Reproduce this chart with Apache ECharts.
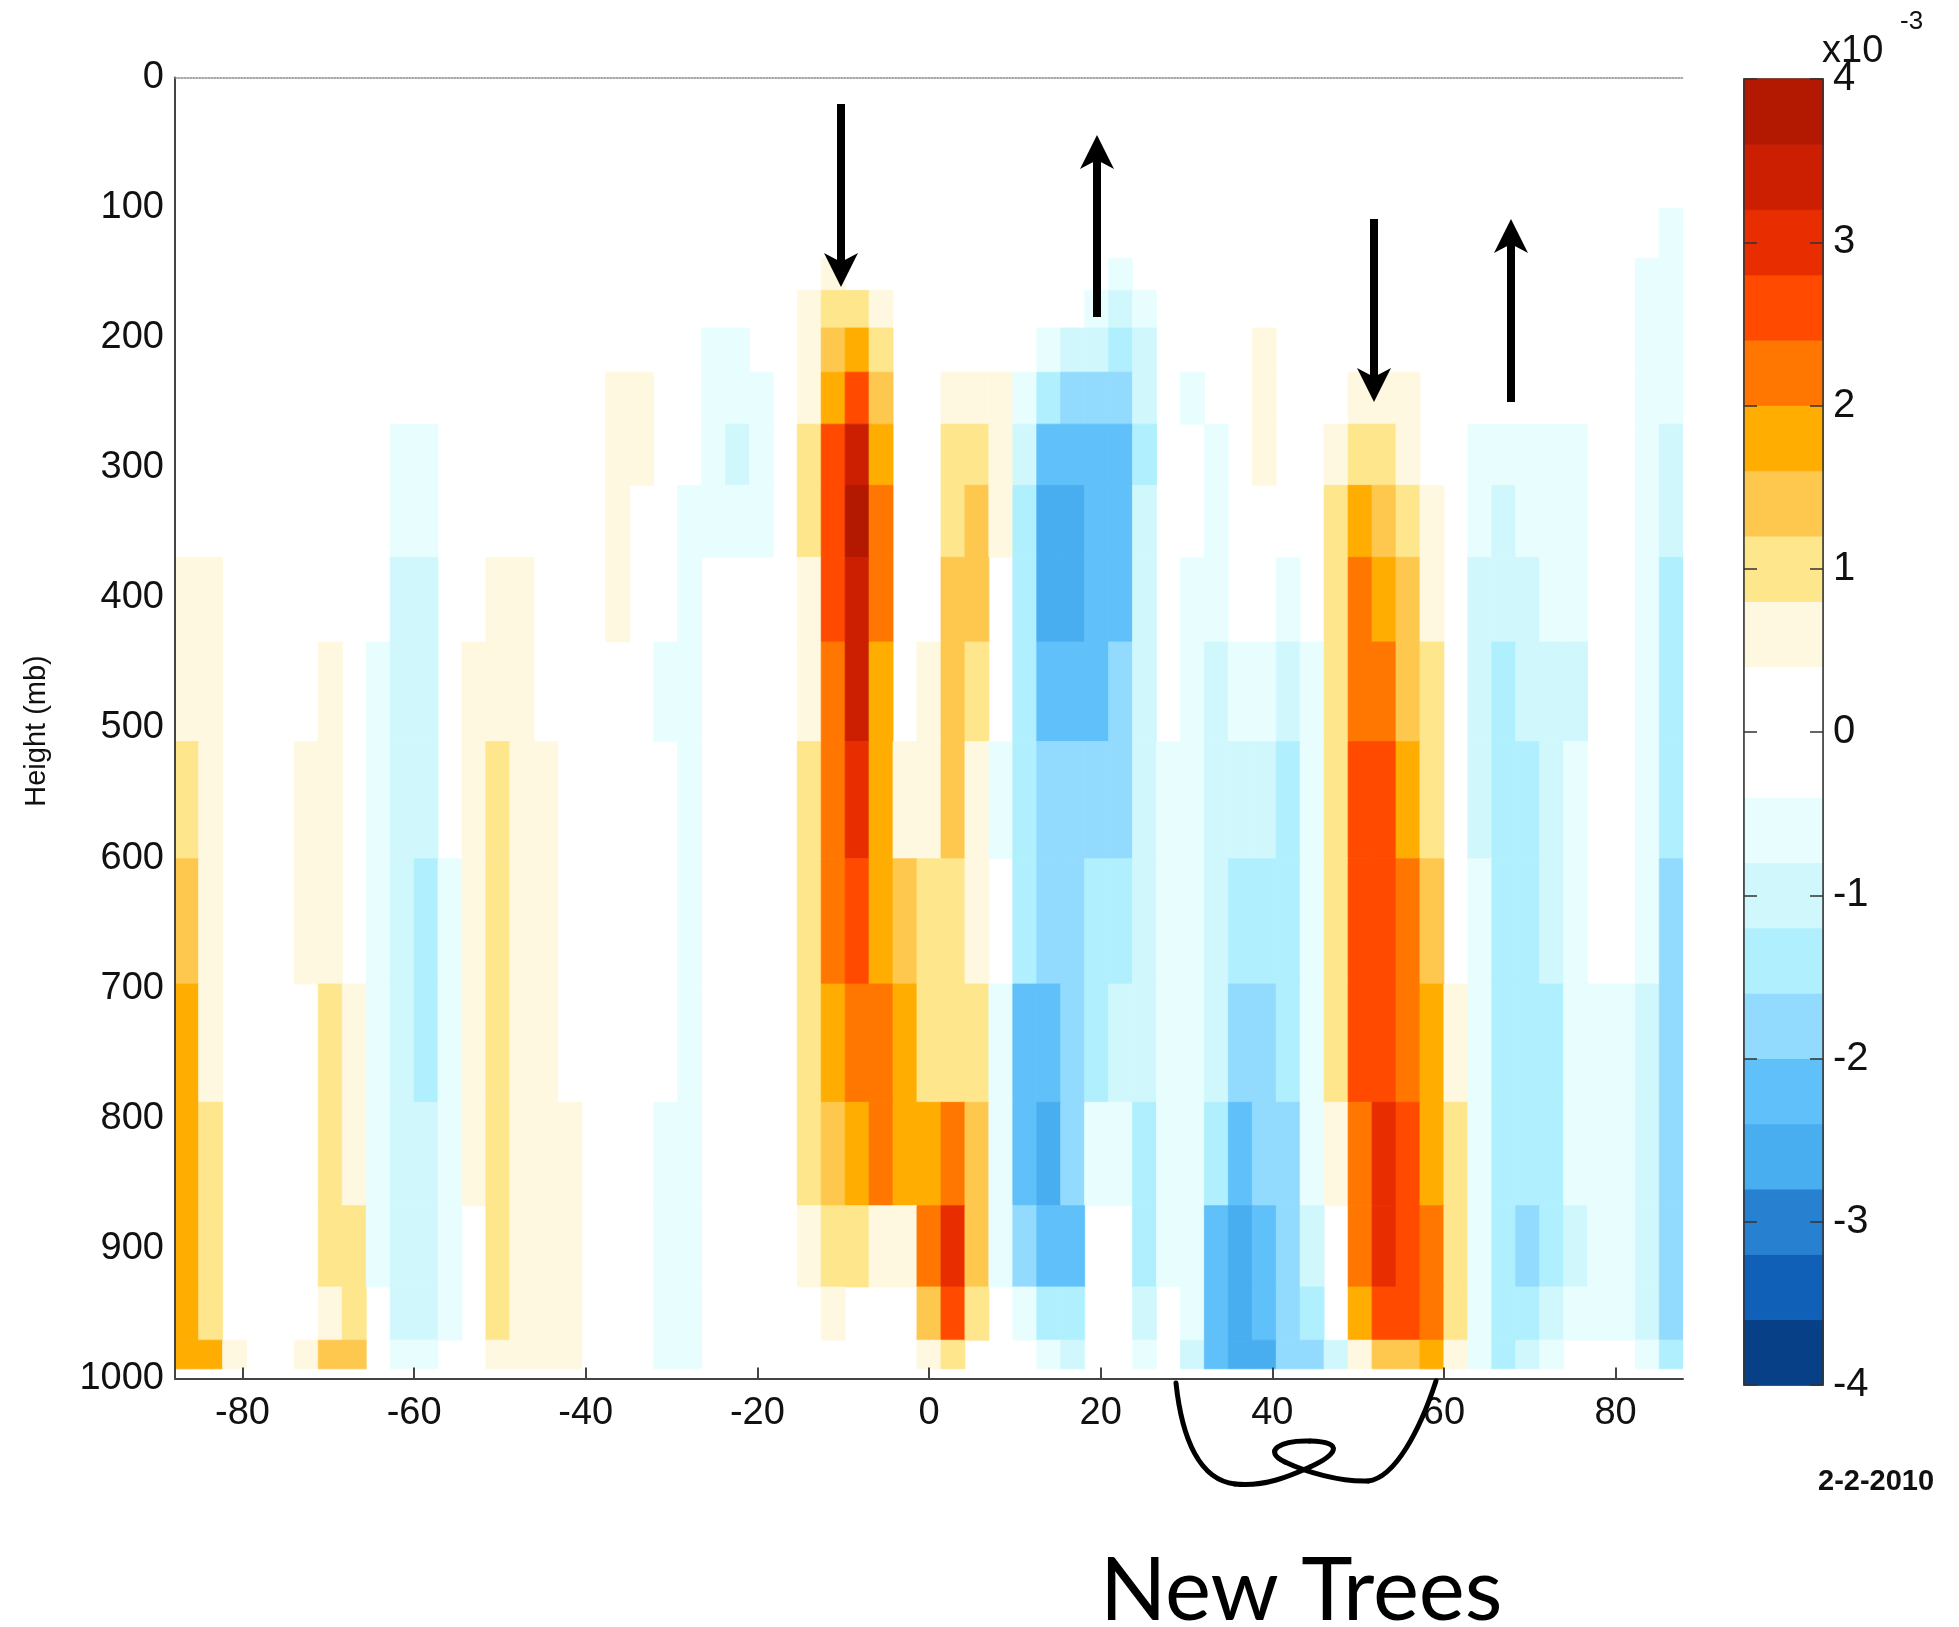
<!DOCTYPE html>
<html>
<head>
<meta charset="utf-8">
<title>Height (mb) by latitude, 2-2-2010</title>
<script src="https://cdn.jsdelivr.net/npm/echarts@6.0.0/dist/echarts.min.js"></script>
<style>
  html, body { margin: 0; padding: 0; background: #fff; }
  #chart { width: 1959px; height: 1627px; }
</style>
</head>
<body>
<div id="chart"></div>
<script>
const fontSans = "'Liberation Sans', Arial, sans-serif"

// latitude cell edges (gaussian grid), south to north
const latEdges = [
  -87.86, -85.10, -82.31, -79.53, -76.74, -73.95, -71.16, -68.37, -65.58, -62.79,
  -60.00, -57.21, -54.42, -51.63, -48.84, -46.04, -43.25, -40.46, -37.67, -34.88,
  -32.09, -29.30, -26.51, -23.72, -20.93, -18.14, -15.35, -12.56, -9.77, -6.98,
  -4.19, -1.40, 1.40, 4.19, 6.98, 9.77, 12.56, 15.35, 18.14, 20.93,
  23.72, 26.51, 29.30, 32.09, 34.88, 37.67, 40.46, 43.25, 46.04, 48.84,
  51.63, 54.42, 57.21, 60.00, 62.79, 65.58, 68.37, 71.16, 73.95, 76.74,
  79.53, 82.31, 85.10, 87.86,
]

// pressure cell edges (mb), top to bottom
const levelEdges = [100.51, 118.25, 139.12, 163.66, 192.54, 226.51, 266.48, 313.50, 368.82,
  433.90, 510.46, 600.52, 696.80, 787.70, 867.16, 929.65, 970.55, 992.56]

// values (x 1e-3), one row per pressure band, one value per latitude band
const anomaly = [
  [0,0,0,0,0,0,0,0,0,0, 0,0,0,0,0,0,0,0,0,0, 0,0,0,0,0,0,0,0,0,0, 0,0,0,0,0,0,0,0,0,0, 0,0,0,0,0,0,0,0,0,0, 0,0,0,0,0,0,0,0,0,0, 0,0,-0.6],
  [0,0,0,0,0,0,0,0,0,0, 0,0,0,0,0,0,0,0,0,0, 0,0,0,0,0,0,0,0,0,0, 0,0,0,0,0,0,0,0,0,0, 0,0,0,0,0,0,0,0,0,0, 0,0,0,0,0,0,0,0,0,0, 0,0,-0.6],
  [0,0,0,0,0,0,0,0,0,0, 0,0,0,0,0,0,0,0,0,0, 0,0,0,0,0,0,0,0.6,0,0, 0,0,0,0,0,0,0,0,0,-0.6, 0,0,0,0,0,0,0,0,0,0, 0,0,0,0,0,0,0,0,0,0, 0,-0.6,-0.6],
  [0,0,0,0,0,0,0,0,0,0, 0,0,0,0,0,0,0,0,0,0, 0,0,0,0,0,0,0.6,1,1,0.6, 0,0,0,0,0,0,0,0,-0.6,-1, -0.6,0,0,0,0,0,0,0,0,0, 0,0,0,0,0,0,0,0,0,0, 0,-0.6,-0.6],
  [0,0,0,0,0,0,0,0,0,0, 0,0,0,0,0,0,0,0,0,0, 0,0,-0.6,-0.6,0,0,0.6,1.4,1.8,1, 0,0,0,0,0,0,-0.6,-1,-1,-1.4, -1,0,0,0,0,0.6,0,0,0,0, 0,0,0,0,0,0,0,0,0,0, 0,-0.6,-0.6],
  [0,0,0,0,0,0,0,0,0,0, 0,0,0,0,0,0,0,0,0.6,0.6, 0,0,-0.6,-0.6,-0.6,0,0.6,1.8,2.6,1.4, 0,0,0.6,0.6,0.6,-0.6,-1.4,-1.8,-1.8,-1.8, -1,0,-0.6,0,0,0.6,0,0,0,0.6, 0.6,0.6,0,0,0,0,0,0,0,0, 0,-0.6,-0.6],
  [0,0,0,0,0,0,0,0,0,-0.6, -0.6,0,0,0,0,0,0,0,0.6,0.6, 0,0,-0.6,-1,-0.6,0,1,2.6,3.4,1.8, 0,0,1,1,0.6,-1,-2.2,-2.2,-2.2,-2.2, -1.4,0,0,-0.6,0,0.6,0,0,0.6,1, 1,0.6,0,0,-0.6,-0.6,-0.6,-0.6,-0.6,0, 0,-0.6,-1],
  [0,0,0,0,0,0,0,0,0,-0.6, -0.6,0,0,0,0,0,0,0,0.6,0, 0,-0.6,-0.6,-0.6,-0.6,0,1,2.6,3.8,2.2, 0,0,1,1.4,0.6,-1.4,-2.6,-2.6,-2.2,-2.2, -1,0,0,-0.6,0,0,0,0,1,1.8, 1.4,1,0.6,0,-0.6,-1,-0.6,-0.6,-0.6,0, 0,-0.6,-1],
  [0.6,0.6,0,0,0,0,0,0,0,-1, -1,0,0,0.6,0.6,0,0,0,0.6,0, 0,-0.6,0,0,0,0,0.6,2.6,3.4,2.2, 0,0,1.4,1.4,0,-1.4,-2.6,-2.6,-2.2,-2.2, -1,0,-0.6,-0.6,0,0,-0.6,0,1,2.2, 1.8,1.4,0.6,0,-1,-1,-1,-0.6,-0.6,0, 0,-0.6,-1.4],
  [0.6,0.6,0,0,0,0,0.6,0,-0.6,-1, -1,0,0.6,0.6,0.6,0,0,0,0,0, -0.6,-0.6,0,0,0,0,0.6,2.2,3.4,1.8, 0,0.6,1.4,1,0,-1.4,-2.2,-2.2,-2.2,-1.8, -1,0,-0.6,-1,-0.6,-0.6,-1,-0.6,1,2.2, 2.2,1.4,1,0,-1,-1.4,-1,-1,-1,0, 0,-0.6,-1.4],
  [1,0.6,0,0,0,0.6,0.6,0,-0.6,-1, -1,0,0.6,1,0.6,0.6,0,0,0,0, 0,-0.6,0,0,0,0,1,2.2,3,1.8, 0.6,0.6,1.4,0.6,-0.6,-1.4,-1.8,-1.8,-1.8,-1.8, -1,-0.6,-0.6,-1,-1,-1,-1.4,-0.6,1,2.6, 2.6,1.8,1,0,-1,-1.4,-1.4,-1,-0.6,0, 0,-0.6,-1.4],
  [1.4,0.6,0,0,0,0.6,0.6,0,-0.6,-1, -1.4,-0.6,0.6,1,0.6,0.6,0,0,0,0, 0,-0.6,0,0,0,0,1,2.2,2.6,1.8, 1.4,1,1,0.6,0,-1.4,-1.8,-1.8,-1.4,-1.4, -1,-0.6,-0.6,-1,-1.4,-1.4,-1.4,-0.6,1,2.6, 2.6,2.2,1.4,0,-0.6,-1.4,-1.4,-1,-0.6,0, 0,-0.6,-1.8],
  [1.8,0.6,0,0,0,0,1,0.6,-0.6,-1, -1.4,-0.6,0.6,1,0.6,0.6,0,0,0,0, 0,-0.6,0,0,0,0,1,1.8,2.2,2.2, 1.8,1,1,1,-0.6,-2.2,-2.2,-1.8,-1.4,-1, -1,-0.6,-0.6,-1,-1.8,-1.8,-1.4,-0.6,1,2.6, 2.6,2.2,1.8,0.6,-0.6,-1.4,-1.4,-1.4,-0.6,-0.6, -0.6,-1,-1.8],
  [1.8,1,0,0,0,0,1,0.6,-0.6,-1, -1,-0.6,0.6,1,0.6,0.6,0.6,0,0,0, -0.6,-0.6,0,0,0,0,1,1.4,1.8,2.2, 1.8,1.8,2.2,1.4,-0.6,-2.2,-2.6,-1.8,-0.6,-0.6, -1.4,-0.6,-0.6,-1.4,-2.2,-1.8,-1.8,-0.6,0.6,2.2, 3,2.6,1.8,1,-0.6,-1.4,-1.4,-1.4,-0.6,-0.6, -0.6,-1,-1.8],
  [1.8,1,0,0,0,0,1,1,-0.6,-1, -1,-0.6,0,1,0.6,0.6,0.6,0,0,0, -0.6,-0.6,0,0,0,0,0.6,1,1,0.6, 0.6,2.2,3,1.4,-0.6,-1.8,-2.2,-2.2,0,0, -1.4,-0.6,-0.6,-2.2,-2.6,-2.2,-1.8,-1,0,2.2, 3,2.6,2.2,1,-0.6,-1.4,-1.8,-1.4,-1,-0.6, -0.6,-1,-1.8],
  [1.8,1,0,0,0,0,0.6,1,0,-1, -1,-0.6,0,1,0.6,0.6,0.6,0,0,0, -0.6,-0.6,0,0,0,0,0,0.6,0,0, 0,1.4,2.6,1,0,-0.6,-1.4,-1.4,0,0, -1,0,-0.6,-2.2,-2.6,-2.2,-1.8,-1.4,0,1.8, 2.6,2.6,2.2,1,-0.6,-1.4,-1.4,-1,-0.6,-0.6, -0.6,-1,-1.8],
  [1.8,1.8,0.6,0,0,0.6,1.4,1.4,0,-0.6, -0.6,0,0,0.6,0.6,0.6,0.6,0,0,0, -0.6,-0.6,0,0,0,0,0,0,0,0, 0,0.6,1,0,0,0,-0.6,-1,0,0, -0.6,0,-1,-2.2,-2.6,-2.6,-1.8,-1.8,-1,0.6, 1.4,1.4,1.8,0.6,-0.6,-1.4,-1,-0.6,0,0, 0,-0.6,-1.4],
]

// colour scale (x 1e-3)
const binEdges = [-4, -3.6, -3.2, -2.8, -2.4, -2, -1.6, -1.2, -0.8, -0.4, 0, 0.4, 0.8, 1.2, 1.6, 2, 2.4, 2.8, 3.2, 3.6, 4]
const binColors = ['#084088', '#1060b8', '#2880d0', '#48aef0', '#60c0fa', '#92dafe', '#b0f0fe', '#d0f8fc', '#e8fefe', '#ffffff',
  '#ffffff', '#fff8e0', '#fee68c', '#fec84f', '#ffad00', '#ff7700', '#ff4a00', '#e82e00', '#cc1e00', '#b31800']

// cells: [lat0, lat1, p0, p1, value]
const cells = []
anomaly.forEach((row, r) => {
  row.forEach((v, c) => {
    if (v !== 0) cells.push([latEdges[c], latEdges[c + 1], levelEdges[r], levelEdges[r + 1], v])
  })
})
const barCells = binColors.map((col, i) => [0, 1, binEdges[i], binEdges[i + 1], i])

const rect = (api, fill) => {
  const a = api.coord([api.value(0), api.value(2)])
  const b = api.coord([api.value(1), api.value(3)])
  return {
    type: 'rect',
    shape: { x: Math.min(a[0], b[0]), y: Math.min(a[1], b[1]), width: Math.abs(b[0] - a[0]), height: Math.abs(b[1] - a[1]) },
    style: { fill, stroke: fill, lineWidth: 0.8 },
  }
}

// black arrows drawn over the plot
const arrow = (x, tail, tip) => {
  const dir = tip > tail ? 1 : -1
  return [
    { type: 'line', z: 100, shape: { x1: x, y1: tail, x2: x, y2: tip - dir * 24 }, style: { stroke: '#000', lineWidth: 8 } },
    { type: 'polygon', z: 100, shape: { points: [[x, tip], [x - 17, tip - dir * 34], [x, tip - dir * 25], [x + 17, tip - dir * 34]] }, style: { fill: '#000' } },
  ]
}

// hand drawn loop under the axis
const loopCurve = [
  [1176, 1383, 1182, 1440, 1200, 1480, 1235, 1484],
  [1235, 1484, 1265, 1487, 1290, 1476, 1310, 1467],
  [1310, 1467, 1336, 1455, 1346, 1442, 1310, 1441],
  [1310, 1441, 1280, 1440, 1262, 1451, 1285, 1462],
  [1285, 1462, 1306, 1472, 1340, 1482, 1368, 1481],
  [1368, 1481, 1395, 1478, 1420, 1430, 1436, 1381],
].map(s => ({
  type: 'bezierCurve', z: 100,
  shape: { x1: s[0], y1: s[1], cpx1: s[2], cpy1: s[3], cpx2: s[4], cpy2: s[5], x2: s[6], y2: s[7] },
  style: { stroke: '#000', lineWidth: 5, fill: null, lineCap: 'round' },
}))

const txt = (text, x, y, size, extra) => ({
  type: 'text', z: 100, x, y,
  style: Object.assign({ text, fontSize: size, fontFamily: fontSans, fill: '#111',
    align: 'left', verticalAlign: 'middle' }, extra || {}),
})

const axisLineStyle = { color: '#444', width: 2 }
const labelStyle = { fontSize: 38, fontFamily: fontSans, color: '#111' }

const chart = echarts.init(document.getElementById('chart'))

chart.setOption({
  animation: false,
  grid: [
    { left: 175, top: 77.5, width: 1508, height: 1301 },
    { left: 1744, top: 79, width: 79, height: 1306, show: true, borderColor: '#333', borderWidth: 1.5 },
  ],
  xAxis: [
    {
      gridIndex: 0, type: 'value', position: 'bottom', z: 10, min: latEdges[0], max: latEdges[latEdges.length - 1], splitNumber: 9,
      axisLine: { onZero: false, lineStyle: axisLineStyle },
      axisTick: { inside: true, length: 11, lineStyle: axisLineStyle },
      axisLabel: Object.assign({ showMinLabel: false, showMaxLabel: false, margin: 16 }, labelStyle),
      splitLine: { show: false },
    },
    {
      gridIndex: 0, type: 'value', position: 'top', z: 10, min: latEdges[0], max: latEdges[latEdges.length - 1],
      axisLine: { onZero: false, lineStyle: { color: '#888', type: 'dotted', width: 1.5 } },
      axisTick: { show: false }, axisLabel: { show: false }, splitLine: { show: false },
    },
    { gridIndex: 1, type: 'value', min: 0, max: 1, show: false },
  ],
  yAxis: [
    {
      gridIndex: 0, type: 'value', position: 'left', z: 10, inverse: true, min: 0, max: 1000, interval: 100,
      axisLine: { show: true, onZero: false, lineStyle: axisLineStyle },
      axisTick: { show: false },
      axisLabel: Object.assign({ margin: 11, formatter: v => String(v) }, labelStyle),
      splitLine: { show: false },
    },
    {
      gridIndex: 1, type: 'value', position: 'right', z: 10, min: -4, max: 4, interval: 1,
      axisLine: { show: true, onZero: false, lineStyle: { color: '#333', width: 1.5 } },
      axisTick: { show: true, inside: true, length: 13, lineStyle: { color: '#333', width: 1.5 } },
      axisLabel: Object.assign({ margin: 10 }, labelStyle, { fontSize: 40 }),
      splitLine: { show: false },
    },
    {
      gridIndex: 1, type: 'value', position: 'left', z: 10, min: -4, max: 4, interval: 1,
      axisLine: { show: true, onZero: false, lineStyle: { color: '#333', width: 1.5 } },
      axisTick: { show: true, inside: true, length: 13, lineStyle: { color: '#333', width: 1.5 } },
      axisLabel: { show: false },
      splitLine: { show: false },
    },
  ],
  visualMap: {
    type: 'piecewise', show: false, seriesIndex: 0, dimension: 4,
    pieces: binColors.map((color, i) => ({ gte: binEdges[i], lt: binEdges[i + 1], color })),
  },
  series: [
    {
      type: 'custom', xAxisIndex: 0, yAxisIndex: 0, clip: true,
      encode: { x: [0, 1], y: [2, 3] },
      data: cells,
      renderItem: (params, api) => rect(api, api.visual('color')),
    },
    {
      type: 'custom', xAxisIndex: 2, yAxisIndex: 1,
      encode: { x: [0, 1], y: [2, 3] },
      data: barCells,
      renderItem: (params, api) => rect(api, binColors[api.value(4)]),
    },
  ],
  graphic: [
    ...arrow(841, 104, 287),
    ...arrow(1097, 317, 135),
    ...arrow(1374, 219, 402),
    ...arrow(1511, 402, 219),
    ...loopCurve,
    txt('x10', 1822, 52, 38),
    txt('-3', 1900, 22, 26),
    Object.assign(txt('Height (mb)', 37, 731, 29, { align: 'center' }), { rotation: Math.PI / 2 }),
    txt('2-2-2010', 1818, 1482, 29, { fontWeight: 'bold' }),
    txt('New Trees', 1100, 1592, 87, { fontFamily: 'Lato, "Open Sans", sans-serif', fill: '#000' }),
  ],
})
</script>
</body>
</html>
